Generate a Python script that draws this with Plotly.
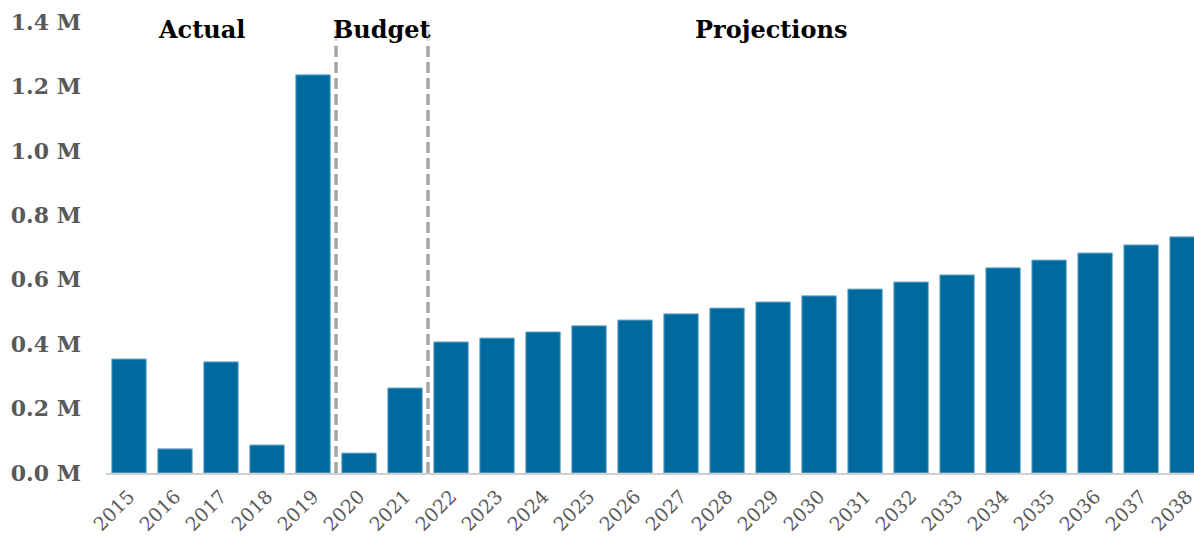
import plotly.graph_objects as go

years = [str(y) for y in range(2015, 2039)]
values_m = [0.354, 0.075, 0.345, 0.087, 1.236, 0.062, 0.264,
            0.407, 0.419, 0.438, 0.457, 0.475, 0.494, 0.512, 0.531,
            0.550, 0.571, 0.593, 0.615, 0.637, 0.661, 0.683, 0.708, 0.733]
values = [v * 1e6 for v in values_m]
y_ticks = [0, 200000, 400000, 600000, 800000, 1000000, 1200000, 1400000]
y_tick_labels = ["0.0 M", "0.2 M", "0.4 M", "0.6 M", "0.8 M", "1.0 M", "1.2 M", "1.4 M"]
sections = ["Actual", "Budget", "Projections"]
section_x = [1.57, 5.5, 13.96]
divider_x = [4.5, 6.5]

fig = go.Figure()
fig.add_trace(go.Bar(
    x=list(range(len(years))), y=values,
    marker=dict(color="#006A9E", line=dict(color="#7FB2D0", width=1)),
    width=0.75, showlegend=False,
))

for dx in divider_x:
    fig.add_shape(type="line", xref="x", yref="y", x0=dx, x1=dx, y0=0, y1=1440000,
                  line=dict(color="#A6A6A6", width=3.5, dash="11px,5px"), layer="below")

for name, sx in zip(sections, section_x):
    fig.add_annotation(x=sx, y=1.0, xref="x", yref="paper", text="<b>%s</b>" % name,
                       showarrow=False, yanchor="middle", yshift=-7,
                       font=dict(family="DejaVu Serif", size=24, color="#000000"),
                       bgcolor="rgba(255,255,255,0.6)")

fig.update_layout(
    width=1194, height=542,
    margin=dict(l=106, r=0, t=22, b=69, autoexpand=False),
    plot_bgcolor="white", paper_bgcolor="white",
    bargap=0.25,
    xaxis=dict(
        range=[-0.5, 23.15], tickmode="array", tickvals=list(range(len(years))),
        ticktext=years, tickangle=-45, showgrid=False, zeroline=False,
        showline=True, linecolor="#D0D0D0", linewidth=2, ticks="",
        ticklabeloverflow="allow", ticklabelstandoff=3, automargin=False,
        tickfont=dict(family="DejaVu Serif", size=19, color="#595959"),
    ),
    yaxis=dict(
        range=[0, 1400000], tickmode="array", tickvals=y_ticks, ticktext=y_tick_labels,
        showgrid=False, zeroline=False, showline=False, ticks="",
        ticklabelstandoff=24, automargin=False,
        tickfont=dict(family="DejaVu Serif", size=22, color="#595959", weight="bold"),
    ),
)

fig.write_html("out.html")
